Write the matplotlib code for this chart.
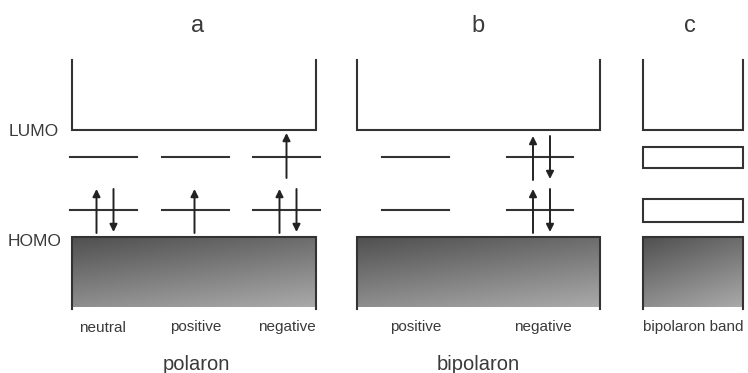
import numpy as np
import matplotlib
matplotlib.use("Agg")
import matplotlib.pyplot as plt
from matplotlib.patches import Rectangle

# ---- data ----
panel_letters = ["a", "b", "c"]
group_labels = ["polaron", "bipolaron"]
sub_labels_a = ["neutral", "positive", "negative"]
sub_labels_b = ["positive", "negative"]
sub_labels_c = ["bipolaron band"]
# electrons in (lower gap level, upper gap level)
occ_a = [(["u", "d"], []), (["u"], []), (["u", "d"], ["u"])]
occ_b = [([], []), (["u", "d"], ["u", "d"])]

# ---- layout (pixels, y downward) ----
W, H = 748, 373
fig = plt.figure(figsize=(W / 100, H / 100), dpi=100)
ax = fig.add_axes([0, 0, 1, 1])
ax.set_xlim(0, W)
ax.set_ylim(H, 0)
ax.axis("off")

LC = "#333333"
LW = 1.5
TC = "#3a3a3a"
FONT = "Liberation Sans"
y_top, y_lumo, y_up, y_lo, y_homo, y_bot = 60, 130, 157, 210, 237, 309

yy, xx = np.mgrid[0:1:100j, 0:1:100j]
gray = (80 + 28 * xx + 62 * yy) / 255.0
grad_rgb = np.dstack([gray, gray, gray])


def band_box(x0, x1):
    ax.plot([x0, x0, x1, x1], [y_top, y_lumo, y_lumo, y_top], color=LC, lw=LW,
            solid_joinstyle="miter")
    ax.imshow(grad_rgb, extent=(x0, x1, y_bot - 2, y_homo),
              origin="upper", aspect="auto", zorder=1, interpolation="bilinear")
    ax.plot([x0, x0, x1, x1], [y_bot, y_homo, y_homo, y_bot], color=LC, lw=LW,
            solid_joinstyle="miter", zorder=3)


def arrow(x, y_from, y_to):
    ax.annotate("", xy=(x, y_to), xytext=(x, y_from),
                arrowprops=dict(arrowstyle="-|>", mutation_scale=11, lw=1.4,
                                color="#222222", shrinkA=0, shrinkB=0), zorder=4)


def spins(xc, y, spins_list, upper_single_to_lumo=False):
    if len(spins_list) == 2:
        arrow(xc - 8, y + 23, y - 21)
        arrow(xc + 9, y - 21, y + 22)
    elif len(spins_list) == 1:
        if upper_single_to_lumo:
            arrow(xc, y + 21, y - 24)
        else:
            arrow(xc, y + 23, y - 21)


# panel a
band_box(72, 316)
a_levels = [(70, 137), (162, 229), (253, 320)]
for (x0, x1), (lo, up) in zip(a_levels, occ_a):
    ax.plot([x0, x1], [y_up, y_up], color=LC, lw=LW)
    ax.plot([x0, x1], [y_lo, y_lo], color=LC, lw=LW)
    xc = (x0 + x1) / 2
    spins(xc + (1 if len(lo) == 2 else -1), y_lo, lo)
    spins(xc, y_up, up, upper_single_to_lumo=True)

# panel b
band_box(357, 600)
b_levels = [(382, 449), (507, 573)]
for (x0, x1), (lo, up) in zip(b_levels, occ_b):
    ax.plot([x0, x1], [y_up, y_up], color=LC, lw=LW)
    ax.plot([x0, x1], [y_lo, y_lo], color=LC, lw=LW)
    xc = (x0 + x1) / 2
    spins(xc + 1, y_lo, lo)
    spins(xc + 1, y_up, up)

# panel c
band_box(643, 743)
for (ya, yb) in [(147, 168), (199, 222)]:
    ax.add_patch(Rectangle((643, ya), 100, yb - ya, fill=False, ec=LC, lw=LW, zorder=3))

# texts
for letter, x in zip(panel_letters, [198, 478, 690]):
    ax.text(x, 31.5, letter, ha="center", va="baseline", fontsize=17, color=TC, family=FONT)
ax.text(9, 136, "LUMO", ha="left", va="baseline", fontsize=12.5, color=TC, family=FONT)
ax.text(8, 246, "HOMO", ha="left", va="baseline", fontsize=12.5, color=TC, family=FONT)
for lab, x in zip(sub_labels_a, [102.5, 196, 287]):
    ax.text(x, 331.5, lab, ha="center", va="baseline", fontsize=11, color=TC, family=FONT)
for lab, x in zip(sub_labels_b, [416, 543]):
    ax.text(x, 331.5, lab, ha="center", va="baseline", fontsize=11, color=TC, family=FONT)
for lab, x in zip(sub_labels_c, [693]):
    ax.text(x, 331.5, lab, ha="center", va="baseline", fontsize=11, color=TC, family=FONT)
for lab, x in zip(group_labels, [196, 478]):
    ax.text(x, 369.5, lab, ha="center", va="baseline", fontsize=14.5, color=TC, family=FONT)

fig.savefig("out.png", dpi=100)
